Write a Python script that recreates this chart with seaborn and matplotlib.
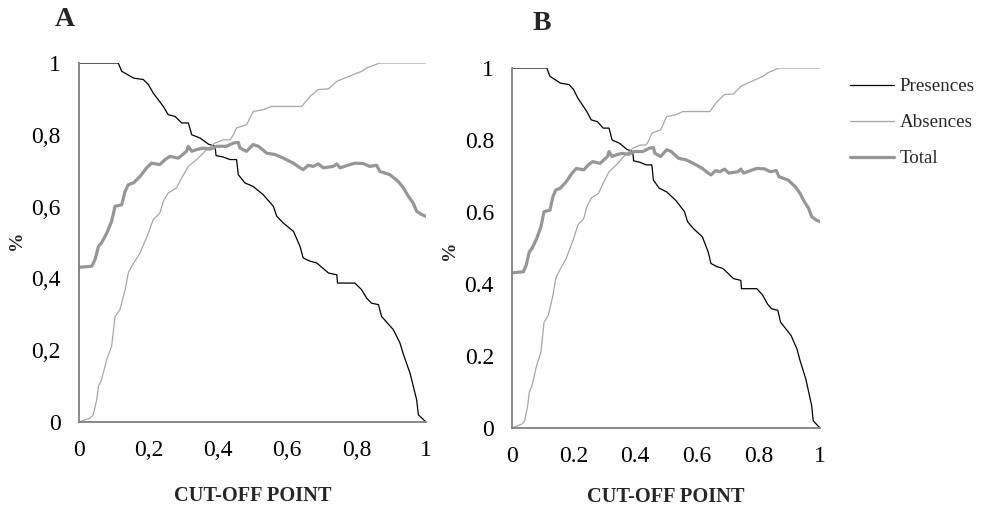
import matplotlib
matplotlib.use("Agg")
import matplotlib.pyplot as plt
import seaborn as sns
import numpy as np
import pandas as pd

# ---- data ----
pres_x = [0.0, 0.113, 0.123, 0.157, 0.185, 0.2, 0.214, 0.243, 0.257, 0.277, 0.296, 0.315,
          0.325, 0.349, 0.373, 0.392, 0.395, 0.416, 0.435, 0.454, 0.459, 0.478, 0.502,
          0.531, 0.56, 0.57, 0.589, 0.618, 0.637, 0.646, 0.666, 0.685, 0.719, 0.743,
          0.745, 0.795, 0.814, 0.829, 0.843, 0.863, 0.872, 0.906, 0.925, 0.935, 0.954,
          0.973, 0.978, 1.0]
pres_y = [1.0, 1.0, 0.977, 0.958, 0.954, 0.94, 0.916, 0.879, 0.856, 0.851, 0.833, 0.833,
          0.8, 0.791, 0.774, 0.768, 0.742, 0.738, 0.731, 0.731, 0.689, 0.666, 0.656,
          0.633, 0.601, 0.573, 0.554, 0.531, 0.489, 0.457, 0.448, 0.443, 0.415, 0.41,
          0.387, 0.387, 0.369, 0.345, 0.331, 0.327, 0.294, 0.257, 0.22, 0.188, 0.136,
          0.062, 0.02, 0.0]

abs_x = [0.0, 0.032, 0.041, 0.051, 0.056, 0.065, 0.08, 0.094, 0.104, 0.118, 0.133, 0.142,
         0.152, 0.176, 0.2, 0.214, 0.233, 0.243, 0.257, 0.281, 0.296, 0.315, 0.339, 0.363,
         0.392, 0.416, 0.435, 0.445, 0.454, 0.483, 0.502, 0.531, 0.555, 0.642, 0.666,
         0.69, 0.719, 0.743, 0.791, 0.815, 0.829, 0.867, 1.0]
abs_y = [0.0, 0.011, 0.02, 0.062, 0.099, 0.118, 0.174, 0.211, 0.294, 0.313, 0.369, 0.415,
         0.434, 0.471, 0.526, 0.564, 0.582, 0.615, 0.638, 0.652, 0.68, 0.712, 0.731, 0.754,
         0.777, 0.786, 0.786, 0.8, 0.819, 0.828, 0.865, 0.87, 0.879, 0.879, 0.907,
         0.926, 0.928, 0.949, 0.968, 0.977, 0.986, 1.0, 1.0]

tot_x = [0.0, 0.037, 0.046, 0.056, 0.065, 0.08, 0.094, 0.104, 0.123, 0.133, 0.142, 0.157,
         0.176, 0.195, 0.209, 0.233, 0.248, 0.262, 0.286, 0.31, 0.315, 0.325, 0.339,
         0.358, 0.378, 0.397, 0.425, 0.445, 0.459, 0.464, 0.483, 0.502, 0.517, 0.541,
         0.565, 0.589, 0.618, 0.637, 0.646, 0.661, 0.675, 0.69, 0.704, 0.733, 0.743,
         0.752, 0.781, 0.795, 0.819, 0.838, 0.858, 0.867, 0.896, 0.92, 0.935, 0.949,
         0.963, 0.973, 0.987, 1.0]
tot_y = [0.431, 0.434, 0.452, 0.489, 0.499, 0.526, 0.559, 0.601, 0.605, 0.643, 0.661, 0.666,
         0.684, 0.708, 0.721, 0.717, 0.731, 0.74, 0.735, 0.754, 0.768, 0.754, 0.759,
         0.763, 0.76, 0.768, 0.768, 0.777, 0.779, 0.763, 0.754, 0.773, 0.768, 0.749,
         0.745, 0.735, 0.721, 0.708, 0.703, 0.715, 0.712, 0.719, 0.708, 0.712, 0.719,
         0.708, 0.717, 0.721, 0.72, 0.712, 0.715, 0.698, 0.689, 0.67, 0.652, 0.629,
         0.61, 0.587, 0.578, 0.573]

series_names = ["Presences", "Absences", "Total"]
tick_values = [0, 0.2, 0.4, 0.6, 0.8, 1]
tick_labels_a = ["0", "0,2", "0,4", "0,6", "0,8", "1"]
tick_labels_b = ["0", "0.2", "0.4", "0.6", "0.8", "1"]
panel_letters = ["A", "B"]
x_title = "CUT-OFF POINT"
y_title = "%"

# ---- style ----
sns.set_style("white")
plt.rcParams["font.family"] = ["Liberation Serif", "DejaVu Serif"]

series = [
    (pres_x, pres_y, "#000000", 0.9),
    (abs_x, abs_y, "#a6a6a6", 0.9),
    (tot_x, tot_y, "#969696", 2.3),
]

W, H = 987, 507
fig = plt.figure(figsize=(W / 100, H / 100), dpi=100)
ax_a = fig.add_axes([79 / W, 1 - 422 / H, (426 - 79) / W, (422 - 63) / H])
ax_b = fig.add_axes([512 / W, 1 - 428 / H, (820 - 512) / W, (428 - 68) / H])

for ax, labels, lpad in ((ax_a, tick_labels_a, 18), (ax_b, tick_labels_b, 14)):
    for (xs, ys, col, lw), name in zip(series, series_names):
        df = pd.DataFrame({"x": xs, "y": ys})
        sns.lineplot(data=df, x="x", y="y", ax=ax, color=col, linewidth=lw,
                     label=name, sort=False, estimator=None)
    ax.set_xlim(0, 1)
    ax.set_ylim(0, 1)
    ax.set_xticks(tick_values)
    ax.set_xticklabels(labels)
    ax.set_yticks(tick_values)
    ax.set_yticklabels(labels)
    for s in ("top", "right"):
        ax.spines[s].set_visible(False)
    for s in ("left", "bottom"):
        ax.spines[s].set_color("#7f7f7f")
        ax.spines[s].set_linewidth(1.3)
    ax.tick_params(axis="both", direction="out", length=5, width=1.1, color="#7f7f7f",
                   labelsize=17, pad=8, labelcolor="black")
    ax.set_xlabel(x_title, fontsize=14.7, fontweight="bold", labelpad=lpad)
    ax.set_ylabel("")
    ax.get_legend().remove()

# y titles placed as in the reference
fig.text(17 / W, 1 - 240 / H, y_title, rotation=90, fontsize=14, fontweight="bold",
         ha="center", va="center")
fig.text(450 / W, 1 - 250 / H, y_title, rotation=90, fontsize=14, fontweight="bold",
         ha="center", va="center")

handles, labs = ax_b.get_legend_handles_labels()
fig.legend(handles, labs, loc="upper left", bbox_to_anchor=(850 / W, 1 - 78 / H),
           frameon=False, fontsize=13.7, handlelength=2.3, handletextpad=0.3,
           labelspacing=0.98, borderpad=0, borderaxespad=0)

fig.text(65 / W, 1 - 19 / H, panel_letters[0], fontsize=20, fontweight="bold",
         ha="center", va="center")
fig.text(542 / W, 1 - 23 / H, panel_letters[1], fontsize=20, fontweight="bold",
         ha="center", va="center")

fig.savefig("out.png", dpi=100)
